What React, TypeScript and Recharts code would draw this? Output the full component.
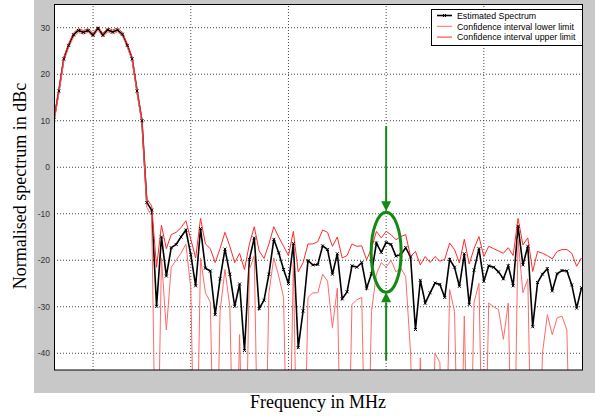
import React from 'react';
import { LineChart, Line, XAxis, YAxis, ReferenceLine, ReferenceDot } from 'recharts';

const estimated = [
  10.2, 16.4, 23.3, 26.2, 28.5, 29.4, 29.0, 29.4, 28.4, 29.9,
  28.4, 29.5, 29.1, 29.5, 28.6, 26.2, 23.3, 16.4, 10.0, -7.6,
  -9.2, -29.9, -15.0, -23.4, -17.3, -16.6, -15.0, -13.5, -18.8, -25.5,
  -13.2, -21.7, -22.3, -31.7, -24.0, -17.6, -23.0, -29.9, -25.1, -39.4,
  -19.8, -15.2, -30.4, -28.6, -23.0, -15.5, -18.4, -22.0, -25.0, -16.4,
  -38.8, -30.9, -20.1, -21.0, -20.9, -16.9, -17.7, -23.0, -18.6, -28.3,
  -26.8, -21.2, -21.5, -20.5, -26.0, -22.9, -16.3, -18.3, -16.2, -16.6,
  -19.1, -18.8, -17.3, -19.3, -34.9, -24.3, -29.2, -27.0, -24.9, -25.2,
  -28.0, -19.8, -21.5, -25.6, -18.6, -29.5, -22.1, -17.5, -24.5, -21.2,
  -21.5, -22.5, -24.0, -21.2, -25.5, -12.7, -21.0, -17.0, -34.3, -24.8,
  -23.0, -21.8, -26.6, -22.9, -22.2, -22.3, -25.3, -30.3, -25.9,
];

const upperLimit = [
  10.6, 16.8, 23.7, 26.6, 28.9, 29.8, 29.4, 29.8, 28.8, 30.2,
  28.8, 29.9, 29.5, 29.9, 29.0, 26.6, 23.7, 16.8, 10.4, -6.8,
  -8.3, -21.5, -12.5, -17.5, -14.5, -14.0, -13.0, -11.5, -15.5, -19.5,
  -11.0, -16.5, -17.5, -20.5, -17.5, -14.0, -17.0, -20.5, -18.5, -22.0,
  -16.5, -12.8, -18.0, -19.6, -16.5, -12.8, -15.0, -17.0, -19.0, -13.8,
  -22.5, -20.5, -16.5, -16.5, -16.0, -13.5, -14.0, -17.0, -15.0, -19.5,
  -19.0, -16.5, -17.0, -16.9, -19.9, -17.5, -13.8, -15.2, -13.8, -14.5,
  -15.6, -14.9, -14.5, -19.2, -18.1, -21.0, -19.2, -20.5, -19.2, -20.2,
  -19.8, -16.3, -17.7, -20.6, -15.5, -20.8, -17.5, -14.9, -19.2, -17.0,
  -17.5, -18.0, -18.5, -17.3, -19.0, -11.0, -16.7, -15.2, -22.4, -18.1,
  -18.5, -19.0, -19.7, -18.1, -17.7, -17.7, -18.5, -21.3, -19.5,
];

const lowerLimit = [
  9.7, 15.9, 22.8, 25.7, 28.0, 29.0, 28.6, 29.0, 28.0, 29.5,
  28.0, 29.1, 28.7, 29.1, 28.2, 25.8, 22.9, 16.0, 9.5, -8.6,
  -10.5, -80, -19.5, -35.0, -21.5, -20.0, -18.5, -16.5, -26.0, -80,
  -19.5, -27.0, -29.0, -80, -31.0, -22.0, -30.0, -80, -36.0, -80,
  -22.0, -19.0, -80, -80, -27.0, -19.5, -23.4, -28.0, -80, -20.5,
  -80, -80, -28.0, -27.0, -27.0, -23.0, -24.5, -34.5, -26.0, -80,
  -80, -29.5, -28.5, -28.0, -80, -31.0, -23.0, -20.5, -21.5, -20.0,
  -22.5, -21.7, -23.5, -40.0, -80, -41.0, -80, -80, -40.0, -42.0,
  -80, -26.3, -31.0, -80, -32.0, -80, -29.0, -25.0, -80, -29.2,
  -30.0, -30.6, -37.0, -29.2, -80, -15.5, -27.0, -24.0, -80, -80,
  -40.0, -31.7, -36.0, -32.4, -32.0, -35.0, -80, -80, -80,
];

const yTicks = [-40, -30, -20, -10, 0, 10, 20, 30];
const xGridPositions = [8, 28, 48, 68, 88];
const legendLabels = [
  'Estimated Spectrum',
  'Confidence interval lower limit',
  'Confidence interval upper limit',
];
const yTitle = 'Normalised spectrum in dBc';
const xTitle = 'Frequency in MHz';
const markIndex = 68;
const markLevel = -18.3;

const Y_DOMAIN: [number, number] = [-43.6, 35.1];
const X_DOMAIN: [number, number] = [0, 108.3];

const data = estimated.map((v, i) => ({
  f: i,
  est: v,
  lo: lowerLimit[i],
  up: upperLimit[i],
}));

const GREEN = '#138a13';
const LOWER_COLOR = '#ff6a6a';
const UPPER_COLOR = '#ff2a2a';

const Cross = (props: any) => {
  const { cx, cy, index } = props;
  if (cx == null || cy == null) return <g key={index} />;
  const s = 1.5;
  return (
    <path
      key={index}
      d={`M${cx - s},${cy - s}L${cx + s},${cy + s}M${cx - s},${cy + s}L${cx + s},${cy - s}`}
      stroke="#000"
      strokeWidth={1}
      fill="none"
    />
  );
};

const Annotation = (props: any) => {
  const { cx, cy } = props;
  if (cx == null || cy == null) return <g />;
  return (
    <g>
      <ellipse cx={cx} cy={cy} rx={15} ry={40} fill="none" stroke={GREEN} strokeWidth={3} />
      <line x1={cx} y1={cy - 126} x2={cx} y2={cy - 50} stroke={GREEN} strokeWidth={2} />
      <path d={`M${cx - 5},${cy - 51}L${cx + 5},${cy - 51}L${cx},${cy - 41}Z`} fill={GREEN} />
      <line x1={cx} y1={cy + 50} x2={cx} y2={cy + 108} stroke={GREEN} strokeWidth={2} />
      <path d={`M${cx - 5},${cy + 50}L${cx + 5},${cy + 50}L${cx},${cy + 40}Z`} fill={GREEN} />
    </g>
  );
};

const legendColors = ['#000', LOWER_COLOR, UPPER_COLOR];

export default function App() {
  return (
    <div style={{ position: 'absolute', left: 0, top: 0, width: 595, height: 416, background: '#fff', overflow: 'hidden' }}>
      <div style={{ position: 'absolute', left: 34, top: 0, width: 561, height: 393, background: '#c8c8c8' }} />
      <div style={{ position: 'absolute', left: 54, top: 4, width: 529, height: 366, background: '#fff' }} />
      <div style={{ position: 'absolute', left: 0, top: 0 }}>
        <LineChart width={595} height={416} data={data} margin={{ top: 4, right: 12, bottom: 46, left: 0 }}>
          <XAxis type="number" dataKey="f" domain={X_DOMAIN} hide allowDataOverflow />
          <YAxis
            type="number"
            domain={Y_DOMAIN}
            ticks={yTicks}
            allowDataOverflow
            width={54}
            axisLine={false}
            tickLine={false}
            tickSize={2}
            tickMargin={2}
            interval={0}
            tick={{ fontSize: 8.5, fill: '#333', fontFamily: 'Liberation Sans, Arial, sans-serif' }}
          />
          {yTicks.map((t) => (
            <ReferenceLine key={`h${t}`} y={t} stroke="#444" strokeWidth={1} strokeDasharray="1 2" />
          ))}
          {xGridPositions.map((t) => (
            <ReferenceLine key={`v${t}`} x={t} stroke="#444" strokeWidth={1} strokeDasharray="1 2" />
          ))}
          <Line
            type="linear"
            dataKey="est"
            stroke="#000"
            strokeWidth={1.6}
            dot={Cross}
            activeDot={false}
            isAnimationActive={false}
          />
          <Line
            type="linear"
            dataKey="lo"
            stroke={LOWER_COLOR}
            strokeWidth={1}
            dot={false}
            activeDot={false}
            isAnimationActive={false}
          />
          <Line
            type="linear"
            dataKey="up"
            stroke={UPPER_COLOR}
            strokeWidth={1}
            dot={false}
            activeDot={false}
            isAnimationActive={false}
          />
          <ReferenceDot x={markIndex} y={markLevel} r={1} shape={Annotation} />
        </LineChart>
      </div>
      <svg width={595} height={416} style={{ position: 'absolute', left: 0, top: 0, pointerEvents: 'none' }}>
        <rect x={54.5} y={4.5} width={528} height={365.5} fill="none" stroke="#000" strokeWidth={1} />
        <rect x={431.5} y={9.5} width={151} height={36} fill="#fff" stroke="#000" strokeWidth={1} />
        {legendLabels.map((lab, i) => {
          const cy = 15.5 + i * 10.8;
          return (
            <g key={lab}>
              <line x1={437} y1={cy} x2={452} y2={cy} stroke={legendColors[i]} strokeWidth={i === 0 ? 1.6 : 1} />
              {i === 0 && (
                <path d={`M443,${cy - 1.5}L446,${cy + 1.5}M443,${cy + 1.5}L446,${cy - 1.5}`} stroke="#000" strokeWidth={1} />
              )}
              <text
                x={457}
                y={cy + 3.2}
                fontSize={8.8}
                fill="#000"
                fontFamily="Liberation Sans, Arial, sans-serif"
              >
                {lab}
              </text>
            </g>
          );
        })}
        <text
          x={20}
          y={186}
          transform="rotate(-90 20 186)"
          textAnchor="middle"
          dominantBaseline="central"
          fontSize={18}
          fill="#000"
          fontFamily="Liberation Serif, Times New Roman, serif"
        >
          {yTitle}
        </text>
        <text
          x={318}
          y={408}
          textAnchor="middle"
          fontSize={18}
          fill="#000"
          fontFamily="Liberation Serif, Times New Roman, serif"
        >
          {xTitle}
        </text>
      </svg>
    </div>
  );
}
